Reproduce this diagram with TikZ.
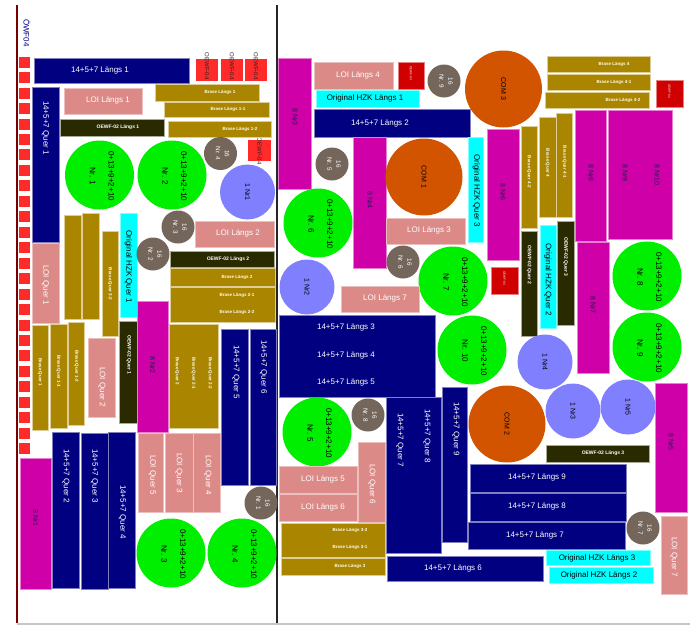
\documentclass[tikz,border=0pt]{standalone}
\usepackage{fontspec}
\setmainfont{Liberation Sans}
\definecolor{cnavy}{HTML}{000080}
\definecolor{cpink}{HTML}{DB8A87}
\definecolor{colive}{HTML}{AA8500}
\definecolor{cdark}{HTML}{2A2A00}
\definecolor{ccyan}{HTML}{00FFFF}
\definecolor{cmag}{HTML}{D000A8}
\definecolor{cred}{HTML}{FF2A2A}
\definecolor{cdred}{HTML}{D00000}
\definecolor{cgreen}{HTML}{00EE00}
\definecolor{clav}{HTML}{8080FF}
\definecolor{cbrown}{HTML}{75665C}
\definecolor{corange}{HTML}{D35400}
\definecolor{cframe}{HTML}{7A0000}
\definecolor{ctnavy}{HTML}{1A1A50}
\newcommand\fsA{\fontsize{8}{9.6}\selectfont}
\newcommand\fsB{\fontsize{7}{8.4}\selectfont}
\newcommand\fsC{\fontsize{6.3}{9}\selectfont}
\newcommand\fsD{\fontsize{4.5}{5}\selectfont\bfseries}
\newcommand\fsE{\fontsize{5}{6}\selectfont\bfseries}
\newcommand\fsF{\fontsize{6}{7}\selectfont}
\newcommand\fsG{\fontsize{3}{3.5}\selectfont}
\newcommand\mybox[6]{\node[#2, minimum width={#5-#3}, minimum height={#6-#4}] (#1) at ({(#3+#5)/2},{(#4+#6)/2}) {};}
\newcommand\mytxt[5]{\node[#2] (#1) at (#3,#4) {#5};}
\begin{document}
\begin{tikzpicture}[x=1pt,y=-1pt,
  rb/.style={rectangle, inner sep=0pt, outer sep=0pt, line width=0.7pt},
  navyb/.style={rb, fill=cnavy, draw=cnavy!50!white},
  pinkb/.style={rb, fill=cpink, draw=cpink!55!white},
  oliveb/.style={rb, fill=colive, draw=colive!40!white},
  darkb/.style={rb, fill=cdark, draw=cdark!40!white},
  cyanb/.style={rb, fill=ccyan, draw=ccyan!50!white},
  magb/.style={rb, fill=cmag, draw=cmag!50!white},
  redb/.style={rb, fill=cred, draw=none},
  dredb/.style={rb, fill=cdred, draw=cdred!50!white},
  circ/.style={circle, inner sep=0pt, outer sep=0pt, draw=none},
  gcirc/.style={circ, fill=cgreen, minimum size=69pt},
  lcirc/.style={circ, fill=clav, minimum size=55pt},
  bcirc/.style={circ, fill=cbrown, minimum size=33pt},
  ocirc/.style={circ, fill=corange, minimum size=77pt},
  tt/.style={inner sep=0pt, align=center},
  wA/.style={tt, font=\fsA, text=white},
  wAv/.style={wA, rotate=-90},
  kA/.style={tt, font=\fsA, text=black},
  kAv/.style={kA, rotate=-90},
  gtxt/.style={tt, font=\fsA, text=black, rotate=-90},
  btxt/.style={tt, font=\fsC, text=white, rotate=-90},
  ltxt/.style={tt, font=\fsB, text=black, rotate=-90},
  mtxt/.style={tt, font=\fsB, text=ctnavy, rotate=-90},
  oD/.style={tt, font=\fsD, text=white!95!yellow},
  oDv/.style={oD, rotate=-90},
  dE/.style={tt, font=\fsE, text=white},
  dEv/.style={dE, rotate=-90},
  rF/.style={tt, font=\fsF, text=black!85, rotate=-90},
  rG/.style={tt, font=\fsG, text=white, rotate=-90}]
\useasboundingbox (0,0) rectangle (692,627);
% frame
\coordinate (fl1) at (17,5); \coordinate (fl2) at (17,623);
\coordinate (fm1) at (277,5); \coordinate (fm2) at (277,623);
\coordinate (fb2) at (690,624);
\draw[gray!45, line width=2pt] (17,624) -- (fb2);
\draw[cframe, line width=1.2pt] (fl1) -- (fl2);
\draw[black!85, line width=1.5pt] (fm1) -- (fm2);
\node[tt, font=\fsA, text=blue!55!black, rotate=-90] (owf) at (27,33) {ÖWF04};
\foreach \i in {0,...,25} {\node[redb, minimum size=11pt] (sq\i) at (24.5,{62.2+\i*15.46}) {};}
% ---------------- left panel
\mybox{l1}{navyb}{34}{58}{189}{83} \mytxt{tl1}{wA}{100}{71}{14+5+7 Längs 1}
\mybox{r1}{redb}{196}{59}{218}{81} \mytxt{tr1}{rF}{207}{66}{OEWF-04}
\mybox{r2}{redb}{221}{59}{243}{81} \mytxt{tr2}{rF}{232}{66}{OEWF-04}
\mybox{r3}{redb}{245}{59}{267}{81} \mytxt{tr3}{rF}{256}{66}{OEWF-04}
\mybox{r4}{redb}{248}{140}{271}{161} \mytxt{tr4}{rF}{259.5}{151}{OEWF-04}
\mybox{q1}{navyb}{32}{87}{59}{242} \mytxt{tq1}{wAv}{45.5}{128}{14+5+7 Quer 1}
\mybox{p1}{pinkb}{64}{88}{142}{114} \mytxt{tp1}{wA}{108}{101}{LOI Längs 1}
\mybox{d1}{darkb}{60}{119}{164}{136} \mytxt{td1}{dE}{118}{127.5}{OEWF-02 Längs 1}
\mybox{o1}{oliveb}{155}{84}{259}{101} \mytxt{to1}{oD}{220}{92.5}{Brase Längs 1}
\mybox{o2}{oliveb}{164}{102}{269}{117} \mytxt{to2}{oD}{228}{109.5}{Brase Längs 1-1}
\mybox{o3}{oliveb}{168}{121}{271}{137} \mytxt{to3}{oD}{240}{129}{Brase Längs 1-2}
\node[bcirc] (b4) at (220.5,153.5) {}; \mytxt{tb4}{btxt}{222.5}{153.5}{16\\Nr. 4}
\node[gcirc] (g1) at (99.5,175) {}; \mytxt{tg1}{gtxt}{102}{176}{0+13+9+2+10\\[9pt]Nr. 1}
\node[gcirc] (g2) at (172,175) {}; \mytxt{tg2}{gtxt}{174.5}{176}{0+13+9+2+10\\[9pt]Nr. 2}
\node[lcirc] (n1) at (247.5,192) {}; \mytxt{tn1}{ltxt}{247.5}{192}{1 Nr1}
\mybox{o4}{oliveb}{64}{215}{81}{319}
\mybox{o5}{oliveb}{82}{213}{99}{319}
\mybox{o6}{oliveb}{102}{231}{118}{336} \mytxt{to6}{oDv}{110}{284}{Brase Quer 3-2}
\mybox{c1}{cyanb}{120}{213}{137}{317} \mytxt{tc1}{kAv}{128.5}{267}{Original HZK Quer 1}
\node[bcirc] (b3) at (178,227) {}; \mytxt{tb3}{btxt}{180}{227}{16\\Nr. 3}
\node[bcirc] (b2) at (153,254) {}; \mytxt{tb2}{btxt}{155}{254}{16\\Nr. 2}
\mybox{p2}{pinkb}{195}{221}{274}{247} \mytxt{tp2}{wA}{238}{234}{LOI Längs 2}
\mybox{d2}{darkb}{170}{251}{274}{267} \mytxt{td2}{dE}{228}{259}{OEWF-02 Längs 2}
\mybox{o7}{oliveb}{170}{268}{275}{286} \mytxt{to7}{oD}{237}{277}{Brase Längs 2}
\mybox{o8}{oliveb}{170}{287}{275}{322} \mytxt{to8}{oD}{237}{295}{Brase Längs 2-1}
\mytxt{to9}{oD}{237}{312}{Brase Längs 2-2}
\mybox{pq1}{pinkb}{32}{243}{59}{323} \mytxt{tpq1}{wAv}{45.5}{285}{LOI Quer 1}
\mybox{oq1}{oliveb}{32}{325}{48}{430} \mytxt{toq1}{oDv}{40}{372}{Brase Quer 1}
\mybox{oq2}{oliveb}{50}{324}{67}{428} \mytxt{toq2}{oDv}{58.5}{371}{Brase Quer 1-1}
\mybox{oq3}{oliveb}{68}{322}{84}{425} \mytxt{toq3}{oDv}{76.5}{366}{Brase Quer 1-2}
\mybox{pq2}{pinkb}{88}{338}{115}{417} \mytxt{tpq2}{wAv}{102}{387}{LOI Quer 2}
\mybox{dq1}{darkb}{119}{321}{137}{423} \mytxt{tdq1}{dEv}{129}{355}{OEWF-02 Quer 1}
\mybox{m2}{magb}{137}{301}{168}{432} \mytxt{tm2}{mtxt}{152.5}{365}{8 Nr2}
\mybox{oq4}{oliveb}{169}{324}{218}{428}
\mytxt{toq4}{oDv}{177}{371}{Brase Quer 2}
\mytxt{toq5}{oDv}{193.5}{373}{Brase Quer 2-1}
\mytxt{toq6}{oDv}{210}{373}{Brase Quer 2-2}
\mybox{q5}{navyb}{221}{329}{248}{485} \mytxt{tq5}{wAv}{236}{372}{14+5+7 Quer 5}
\mybox{q6}{navyb}{250}{329}{276}{485} \mytxt{tq6}{wAv}{263.5}{367}{14+5+7 Quer 6}
\mybox{m1}{magb}{20}{458}{51}{589} \mytxt{tm1}{mtxt}{35.5}{518}{8 Nr1}
\mybox{q2}{navyb}{52}{432}{79}{588} \mytxt{tq2}{wAv}{66}{476}{14+5+7 Quer 2}
\mybox{q3}{navyb}{81}{433}{108}{589} \mytxt{tq3}{wAv}{94.5}{476}{14+5+7 Quer 3}
\mybox{q4}{navyb}{108}{432}{135}{588} \mytxt{tq4}{wAv}{122.5}{512}{14+5+7 Quer 4}
\mybox{pq5}{pinkb}{138}{433}{163}{512} \mytxt{tpq5}{wAv}{152.5}{475}{LOI Quer 5}
\mybox{pq3}{pinkb}{165}{433}{193}{512} \mytxt{tpq3}{wAv}{179}{473}{LOI Quer 3}
\mybox{pq4}{pinkb}{193}{433}{220}{512} \mytxt{tpq4}{wAv}{208}{475}{LOI Quer 4}
\node[bcirc] (b1) at (261,503) {}; \mytxt{tb1}{btxt}{263}{503}{16\\Nr. 1}
\node[gcirc] (g3) at (171,553) {}; \mytxt{tg3}{gtxt}{173.5}{554}{0+13+9+2+10\\[9pt]Nr. 3}
\node[gcirc] (g4) at (242,553) {}; \mytxt{tg4}{gtxt}{244.5}{554}{0+13+9+2+10\\[9pt]Nr. 4}
% ---------------- right panel
\mybox{m3}{magb}{278}{58}{311}{189} \mytxt{tm3}{mtxt}{295}{117}{8 Nr3}
\mybox{p4}{pinkb}{314}{62}{393}{89} \mytxt{tp4}{wA}{358}{75.5}{LOI Längs 4}
\mybox{dr1}{dredb}{398}{62}{424}{89} \mytxt{tdr1}{rG}{411}{73}{OEWF-04}
\node[bcirc] (b9) at (444,81) {}; \mytxt{tb9}{btxt}{446}{81}{16\\Nr. 9}
\node[ocirc] (com3) at (503.5,89) {}; \mytxt{tcom3}{ltxt}{503.5}{89}{COM 3}
\mybox{c2}{cyanb}{316}{90}{419}{107} \mytxt{tc2}{kA}{365}{98.5}{Original HZK Längs 1}
\mybox{l2}{navyb}{314}{109}{470}{137} \mytxt{tl2}{wA}{380}{124}{14+5+7 Längs 2}
\mybox{m4}{magb}{353}{137}{386}{268} \mytxt{tm4}{mtxt}{370}{200}{8 Nr4}
\node[bcirc] (b5) at (332,164) {}; \mytxt{tb5}{btxt}{334}{164}{16\\Nr. 5}
\node[ocirc] (com1) at (424,177) {}; \mytxt{tcom1}{ltxt}{424}{177}{COM 1}
\mybox{c3}{cyanb}{468}{137}{483}{242} \mytxt{tc3}{kAv}{476.5}{191}{Original HZK Quer 3}
\mybox{m6}{magb}{487}{129}{519}{260} \mytxt{tm6}{mtxt}{503}{192}{8 Nr6}
\mybox{oq7}{oliveb}{521}{126}{537}{228} \mytxt{toq7}{oDv}{529}{172}{Brase Quer 4-2}
\mybox{oq8}{oliveb}{539}{117}{556}{217} \mytxt{toq8}{oDv}{547.5}{163}{Brase Quer 4}
\mybox{oq9}{oliveb}{556}{113}{572}{217} \mytxt{toq9}{oDv}{564.5}{162}{Brase Quer 4-1}
\mybox{dq2}{darkb}{521}{231}{537}{336} \mytxt{tdq2}{dEv}{529}{265}{OEWF-02 Quer 2}
\mybox{c4}{cyanb}{540}{225}{556}{328} \mytxt{tc4}{kAv}{548}{280}{Original HZK Quer 2}
\mybox{dq3}{darkb}{557}{221}{574}{325} \mytxt{tdq3}{dEv}{565.5}{257}{OEWF-02 Quer 3}
\mybox{dr2}{dredb}{491}{267}{518}{294} \mytxt{tdr2}{rG}{504.5}{278}{OEWF-04}
\mybox{o10}{oliveb}{547}{56}{650}{72} \mytxt{to10}{oD}{614}{64}{Brase Längs 4}
\mybox{o11}{oliveb}{547}{74}{650}{90} \mytxt{to11}{oD}{614}{82}{Brase Längs 4-1}
\mybox{o12}{oliveb}{545}{92}{649}{108} \mytxt{to12}{oD}{623}{100}{Brase Längs 4-2}
\mybox{dr3}{dredb}{656}{80}{683}{107} \mytxt{tdr3}{rG}{669.5}{91}{OEWF-04}
\mybox{m8}{magb}{575}{110}{606}{241} \mytxt{tm8}{mtxt}{591}{173}{8 Nr8}
\mybox{m9}{magb}{608}{110}{672}{239} \mytxt{tm9}{mtxt}{625}{173}{8 Nr9}
\mytxt{tm10}{mtxt}{657}{175}{8 Nr10}
\mybox{m7}{magb}{577}{242}{609}{373} \mytxt{tm7}{mtxt}{593}{305}{8 Nr7}
\node[gcirc] (g8) at (647,276) {}; \mytxt{tg8}{gtxt}{649.5}{277}{0+13+9+2+10\\[9pt]Nr. 8}
\node[gcirc] (g9) at (647,347) {}; \mytxt{tg9}{gtxt}{649.5}{348}{0+13+9+2+10\\[9pt]Nr. 9}
\node[lcirc] (n4) at (545,362) {}; \mytxt{tn4}{ltxt}{545}{362}{1 Nr4}
\node[lcirc] (n3) at (573,411) {}; \mytxt{tn3}{ltxt}{573}{411}{1 Nr3}
\node[lcirc] (n5) at (628,407) {}; \mytxt{tn5}{ltxt}{628}{407}{1 Nr5}
\mybox{m5}{magb}{655}{383}{687}{512} \mytxt{tm5}{mtxt}{671}{442}{8 Nr5}
\node[gcirc] (g6) at (318,223) {}; \mytxt{tg6}{gtxt}{320.5}{224}{0+13+9+2+10\\[9pt]Nr. 6}
\mybox{p3}{pinkb}{386}{218}{465}{244} \mytxt{tp3}{wA}{429}{231}{LOI Längs 3}
\node[bcirc] (b6) at (403,262) {}; \mytxt{tb6}{btxt}{405}{262}{16\\Nr. 6}
\node[gcirc] (g7) at (453,281) {}; \mytxt{tg7}{gtxt}{455.5}{282}{0+13+9+2+10\\[9pt]Nr. 7}
\node[lcirc] (n2) at (307,287) {}; \mytxt{tn2}{ltxt}{307}{287}{1 Nr2}
\mybox{p7}{pinkb}{341}{286}{419}{312} \mytxt{tp7}{wA}{385}{299}{LOI Längs 7}
\mybox{l3}{navyb}{279}{315}{435}{397}
\mytxt{tl3}{wA}{346}{328}{14+5+7 Längs 3}
\mytxt{tl4}{wA}{346}{356}{14+5+7 Längs 4}
\mytxt{tl5}{wA}{346}{383}{14+5+7 Längs 5}
\node[gcirc] (g10) at (472,350) {}; \mytxt{tg10}{gtxt}{474.5}{351}{0+13+9+2+10\\[9pt]Nr. 10}
\node[gcirc] (g5) at (317,432) {}; \mytxt{tg5}{gtxt}{319.5}{433}{0+13+9+2+10\\[9pt]Nr. 5}
\node[bcirc] (b8) at (368,415) {}; \mytxt{tb8}{btxt}{370}{415}{16\\Nr. 8}
\mybox{p5}{pinkb}{279}{466}{357}{493} \mytxt{tp5}{wA}{323}{480}{LOI Längs 5}
\mybox{p6}{pinkb}{279}{494}{357}{521} \mytxt{tp6}{wA}{323}{508}{LOI Längs 6}
\mybox{pq6}{pinkb}{358}{442}{385}{522} \mytxt{tpq6}{wAv}{372}{484}{LOI Quer 6}
\mybox{o13}{oliveb}{281}{523}{385}{557}
\mytxt{to13}{oD}{350}{530}{Brase Längs 3-2}
\mytxt{to14}{oD}{350}{547}{Brase Längs 3-1}
\mybox{o15}{oliveb}{281}{558}{385}{575} \mytxt{to15}{oD}{350}{566}{Brase Längs 3}
\mybox{q7}{navyb}{386}{397}{441}{553}
\mytxt{tq7}{wAv}{400}{440}{14+5+7 Quer 7}
\mytxt{tq8}{wAv}{427}{436}{14+5+7 Quer 8}
\mybox{q9}{navyb}{442}{387}{467}{542} \mytxt{tq9}{wAv}{456}{429}{14+5+7 Quer 9}
\node[ocirc] (com2) at (507,424) {}; \mytxt{tcom2}{ltxt}{507}{424}{COM 2}
\mybox{d3}{darkb}{546}{445}{649}{462} \mytxt{td3}{dE}{603}{453.5}{OEWF-02 Längs 3}
\mybox{l9}{navyb}{470}{464}{626}{492} \mytxt{tl9}{wA}{537}{478}{14+5+7 Längs 9}
\mybox{l8}{navyb}{470}{493}{626}{521} \mytxt{tl8}{wA}{537}{507}{14+5+7 Längs 8}
\mybox{l7}{navyb}{468}{522}{625}{549} \mytxt{tl7}{wA}{535}{536}{14+5+7 Längs 7}
\mybox{l6}{navyb}{387}{556}{543}{581} \mytxt{tl6}{wA}{453}{568.5}{14+5+7 Längs 6}
\node[bcirc] (b7) at (643,528) {}; \mytxt{tb7}{btxt}{645}{528}{16\\Nr. 7}
\mybox{pq7}{pinkb}{661}{516}{687}{594} \mytxt{tpq7}{wAv}{674}{557}{LOI Quer 7}
\mybox{c5}{cyanb}{546}{550}{650}{565} \mytxt{tc5}{kA}{597}{558}{Original HZK Längs 3}
\mybox{c6}{cyanb}{549}{567}{653}{583} \mytxt{tc6}{kA}{599}{575}{Original HZK Längs 2}
\end{tikzpicture}
\end{document}
